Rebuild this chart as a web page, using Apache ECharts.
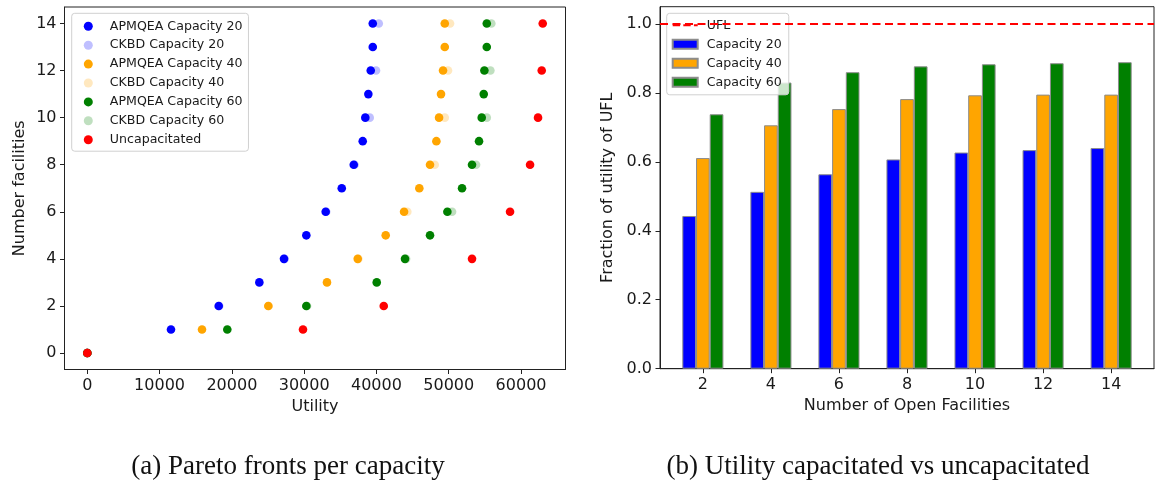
<!DOCTYPE html>
<html>
<head>
<meta charset="utf-8">
<script src="https://cdn.jsdelivr.net/npm/echarts@6/dist/echarts.min.js"></script>
<style>
html,body{margin:0;padding:0;background:#fff;}
#chart{width:1155px;height:486px;}
</style>
</head>
<body>
<div id="chart"></div>
<script>
// ---------- Data: (a) Pareto fronts ----------
const facilities = [0,1,2,3,4,5,6,7,8,9,10,11,12,13,14];
const apmqea20 = [0, 11580, 18180, 23800, 27210, 30300, 32980, 35200, 36860, 38100, 38460, 38880, 39210, 39490, 39490];
const apmqea40 = [0, 15870, 25040, 33160, 37410, 41280, 43820, 45930, 47410, 48290, 48660, 48930, 49210, 49450, 49450];
const apmqea60 = [0, 19370, 30300, 40040, 43950, 47410, 49810, 51840, 53220, 54190, 54560, 54840, 54930, 55260, 55260];
const ckbdFacilities = [0,2,4,6,8,10,12,14];
const ckbd20 = [0, 18250, 27300, 33050, 36970, 39070, 39940, 40320];
const ckbd40 = [0, 25100, 37500, 44270, 48060, 49450, 49900, 50180];
const ckbd60 = [0, 30400, 44100, 50460, 53780, 55260, 55760, 55890];
const uncapFacilities = [0,1,2,4,6,8,10,12,14];
const uncapUtility = [0, 29840, 41010, 53220, 58480, 61250, 62350, 62860, 63000];
const utilityTicks = [0,10000,20000,30000,40000,50000,60000];
const facilityTicks = [0,2,4,6,8,10,12,14];

// ---------- Data: (b) Fraction of UFL ----------
const openFacilities = [2,4,6,8,10,12,14];
const frac20 = [0.443, 0.513, 0.564, 0.607, 0.627, 0.634, 0.640];
const frac40 = [0.611, 0.706, 0.753, 0.782, 0.793, 0.795, 0.795];
const frac60 = [0.738, 0.830, 0.860, 0.877, 0.883, 0.886, 0.889];
const uflLevel = 1.0;
const fractionTicks = [0, 0.2, 0.4, 0.6, 0.8, 1.0];

const pairs = (xs, ys) => xs.map((x, i) => [x, ys[i]]);
const pairsYX = (ys, xs) => ys.map((y, i) => [xs[i], y]);

const FONT = 'DejaVu Sans';
const TXT = '#1a1a1a';
const tickLabel = (fmt, vals) => ({
  customValues: vals, fontFamily: FONT, fontSize: 16, color: TXT, margin: 8, formatter: fmt
});
const axisBase = {
  axisLine: {show: true, onZero: false, lineStyle: {color: '#222', width: 1}},
  splitLine: {show: false},
  nameTextStyle: {fontFamily: FONT, fontSize: 16, color: TXT},
  nameLocation: 'middle'
};

const chart = echarts.init(document.getElementById('chart'), null, {renderer: 'canvas'});

function scatter(name, color, data) {
  return {
    type: 'scatter', name, xAxisIndex: 0, yAxisIndex: 0,
    symbol: 'circle', symbolSize: 8.6,
    itemStyle: {color: color, opacity: 1},
    data: data, z: 3, silent: true
  };
}
function bar(name, color, vals) {
  return {
    type: 'bar', name, xAxisIndex: 1, yAxisIndex: 1,
    barWidth: 13.7, barGap: '0%',
    itemStyle: {color: color, borderColor: '#8c8c8c', borderWidth: 1},
    data: pairs(openFacilities, vals), silent: true
  };
}

const option = {
  animation: false,
  backgroundColor: '#fff',
  grid: [
    {left: 64.5, top: 7, width: 501, height: 362.5, show: true, borderColor: '#222', borderWidth: 1, backgroundColor: 'transparent'},
    {left: 660, top: 6.7, width: 494, height: 362, show: true, borderColor: '#222', borderWidth: 1, backgroundColor: 'transparent'}
  ],
  xAxis: [
    Object.assign({}, axisBase, {
      type: 'value', gridIndex: 0, min: -3150, max: 66150,
      name: 'Utility', nameGap: 29,
      axisTick: {show: true, customValues: utilityTicks, length: 4.5, lineStyle: {color: '#222'}},
      axisLabel: tickLabel(v => String(v), utilityTicks)
    }),
    Object.assign({}, axisBase, {
      type: 'value', gridIndex: 1, min: 0.74, max: 15.26,
      name: 'Number of Open Facilities', nameGap: 29,
      axisTick: {show: true, customValues: openFacilities, length: 4.5, lineStyle: {color: '#222'}},
      axisLabel: tickLabel(v => String(v), openFacilities)
    })
  ],
  yAxis: [
    Object.assign({}, axisBase, {
      type: 'value', gridIndex: 0, min: -0.7, max: 14.7,
      name: 'Number facilities', nameGap: 37,
      axisTick: {show: true, customValues: facilityTicks, length: 4.5, lineStyle: {color: '#222'}},
      axisLabel: tickLabel(v => String(v), facilityTicks)
    }),
    Object.assign({}, axisBase, {
      type: 'value', gridIndex: 1, min: 0, max: 1.05,
      name: 'Fraction of utility of UFL', nameGap: 44,
      axisTick: {show: true, customValues: fractionTicks, length: 4.5, lineStyle: {color: '#222'}},
      axisLabel: tickLabel(v => v.toFixed(1), fractionTicks)
    })
  ],
  legend: [
    {
      orient: 'vertical', left: 71.7, top: 13.3,
      padding: [6.5, 6, 5, 12.1], itemGap: 5.9,
      itemWidth: 9, itemHeight: 9, icon: 'circle',
      backgroundColor: 'rgba(255,255,255,0.8)', borderColor: '#d0d0d0', borderWidth: 1, borderRadius: 3,
      textStyle: {fontFamily: FONT, fontSize: 12.6, color: TXT, lineHeight: 12},
      formatter: n => '   ' + n,
      selectedMode: false,
      data: ['APMQEA Capacity 20','CKBD Capacity 20','APMQEA Capacity 40','CKBD Capacity 40','APMQEA Capacity 60','CKBD Capacity 60','Uncapacitated']
    },
    {
      orient: 'vertical', left: 666.7, top: 13.3,
      padding: [5.5, 7, 6, 5], itemGap: 6,
      itemWidth: 25, itemHeight: 9,
      backgroundColor: 'rgba(255,255,255,0.8)', borderColor: '#d0d0d0', borderWidth: 1, borderRadius: 3,
      textStyle: {fontFamily: FONT, fontSize: 12.6, color: TXT, lineHeight: 12},
      formatter: n => ' ' + n,
      selectedMode: false,
      data: [
        {name: 'UFL', icon: 'path://M0,0h7.4v2h-7.4z M10.6,0h7.4v2h-7.4z M21.2,0h3.8v2h-3.8z'},
        {name: 'Capacity 20', icon: 'rect'},
        {name: 'Capacity 40', icon: 'rect'},
        {name: 'Capacity 60', icon: 'rect'}
      ]
    }
  ],
  series: [
    scatter('APMQEA Capacity 20', '#0000ff', pairsYX(facilities, apmqea20)),
    scatter('CKBD Capacity 20', 'rgba(0,0,255,0.25)', pairsYX(ckbdFacilities, ckbd20)),
    scatter('APMQEA Capacity 40', '#ffa500', pairsYX(facilities, apmqea40)),
    scatter('CKBD Capacity 40', 'rgba(255,165,0,0.25)', pairsYX(ckbdFacilities, ckbd40)),
    scatter('APMQEA Capacity 60', '#008000', pairsYX(facilities, apmqea60)),
    scatter('CKBD Capacity 60', 'rgba(0,128,0,0.25)', pairsYX(ckbdFacilities, ckbd60)),
    scatter('Uncapacitated', '#ff0000', pairsYX(uncapFacilities, uncapUtility)),
    {
      type: 'line', name: 'UFL', xAxisIndex: 1, yAxisIndex: 1,
      symbol: 'none', data: [],
      itemStyle: {color: '#ff0000'},
      lineStyle: {color: '#ff0000', type: [8, 4.5], width: 2},
      markLine: {
        silent: true, symbol: 'none', animation: false,
        label: {show: false},
        lineStyle: {color: '#ff0000', type: [8, 4.5], width: 2},
        data: [{yAxis: uflLevel}]
      },
      z: 1
    },
    bar('Capacity 20', '#0000ff', frac20),
    bar('Capacity 40', '#ffa500', frac40),
    bar('Capacity 60', '#008000', frac60)
  ],
  graphic: [
    {type: 'text', x: 288, y: 467, style: {text: '(a) Pareto fronts per capacity', font: '27px "Liberation Serif"', fill: '#111', textAlign: 'center', textVerticalAlign: 'middle'}},
    {type: 'text', x: 878, y: 467, style: {text: '(b) Utility capacitated vs uncapacitated', font: '27px "Liberation Serif"', fill: '#111', textAlign: 'center', textVerticalAlign: 'middle'}}
  ]
};
chart.setOption(option);
</script>
</body>
</html>
